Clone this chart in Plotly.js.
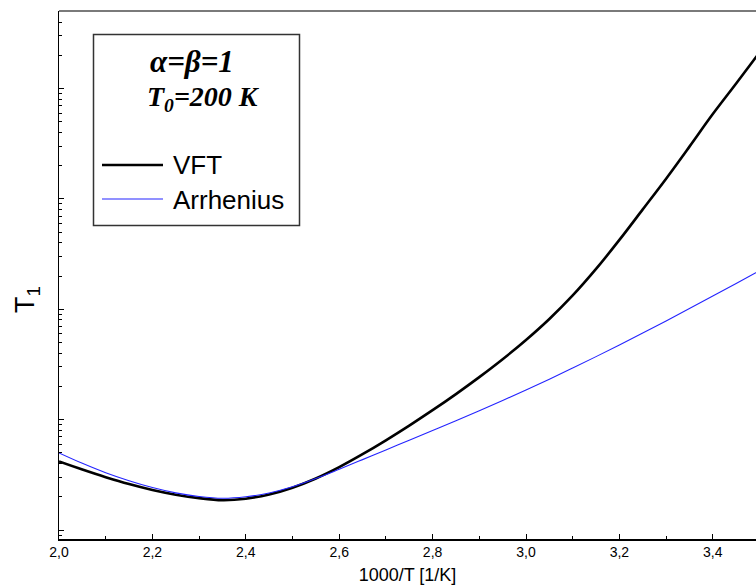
<!DOCTYPE html>
<html>
<head>
<meta charset="utf-8">
<script src="https://cdn.plot.ly/plotly-3.0.1.min.js"></script>
<style>
  html, body { margin: 0; padding: 0; background: #ffffff; }
  #chart { width: 756px; height: 586px; }
</style>
</head>
<body>
<div id="chart"></div>
<script>
// Inverse temperature, 1000/T in 1/K
const invT = [2.00, 2.05, 2.10, 2.15, 2.20, 2.25, 2.30, 2.35, 2.40, 2.45,
              2.50, 2.55, 2.60, 2.65, 2.70, 2.75, 2.80, 2.85, 2.90, 2.95,
              3.00, 3.05, 3.10, 3.15, 3.20, 3.25, 3.30, 3.35, 3.40, 3.45, 3.50];

// T1 with a Vogel-Fulcher-Tammann correlation time
const t1VFT = [4.181, 3.531, 3.012, 2.608, 2.306, 2.090, 1.943, 1.863, 1.921, 2.099,
               2.419, 2.932, 3.712, 4.860, 6.497, 8.831, 12.18, 17.05, 24.27, 35.27,
               52.67, 81.66, 133.4, 232.0, 425.2, 803.9, 1526, 2978, 5871, 11101, 21209];

// T1 with an Arrhenius correlation time
const t1Arrhenius = [4.994, 4.019, 3.302, 2.794, 2.424, 2.170, 2.013, 1.939, 2.000, 2.166,
                     2.465, 2.926, 3.553, 4.342, 5.317, 6.511, 7.973, 9.783, 12.06, 14.92,
                     18.58, 23.27, 29.35, 37.24, 47.54, 60.96, 78.49, 101.5, 131.7, 171.4, 223.5];

const seriesNames = ['VFT', 'Arrhenius'];

// plot frame in pixels
const W = 756, H = 586;
const L = 59, R = 0, T = 11, B = 47;
const pw = W - L - R, ph = H - T - B;
const px = v => (v - L) / pw;          // page x -> paper x
const py = v => (H - B - v) / ph;      // page y -> paper y

const sans = 'Arial, "Liberation Sans", sans-serif';
const serif = '"Times New Roman", "Liberation Serif", serif';

const traces = [
  {
    x: invT, y: t1VFT, name: seriesNames[0], type: 'scatter', mode: 'lines',
    line: { color: '#000000', width: 2.6, shape: 'spline', smoothing: 1 },
    hoverinfo: 'skip'
  },
  {
    x: invT, y: t1Arrhenius, name: seriesNames[1], type: 'scatter', mode: 'lines',
    line: { color: '#2424ff', width: 1.1, shape: 'spline', smoothing: 1 },
    hoverinfo: 'skip'
  }
];

const layout = {
  width: W, height: H,
  margin: { l: L, r: R, t: T, b: B, pad: 0 },
  paper_bgcolor: '#ffffff', plot_bgcolor: '#ffffff',
  showlegend: false,
  separators: ',.',
  font: { family: sans, color: '#000000' },
  xaxis: {
    range: [2, 2 + pw / 467],
    tick0: 2, dtick: 0.2, tickformat: '.1f',
    ticks: 'inside', ticklen: 5, tickwidth: 1, tickcolor: '#000000',
    minor: { ticks: 'inside', ticklen: 3, dtick: 0.1, tickcolor: '#000000', showgrid: false },
    showgrid: false, zeroline: false,
    showline: true, linecolor: '#000000', linewidth: 1.5,
    tickfont: { family: sans, size: 14, color: '#000000' },
    title: { text: '1000/T [1/K]', font: { family: sans, size: 18, color: '#000000' }, standoff: 9 }
  },
  yaxis: {
    type: 'log',
    range: [-0.0816, 4.703],
    dtick: 1,
    ticks: 'inside', ticklen: 5, tickwidth: 1, tickcolor: '#000000',
    minor: { ticks: 'inside', ticklen: 3, dtick: 'D1', tickcolor: '#000000', showgrid: false },
    showticklabels: false,
    showgrid: false, zeroline: false,
    showline: true, linecolor: '#000000', linewidth: 1.5
  },
  shapes: [
    // top frame edge
    { type: 'line', xref: 'paper', yref: 'paper', x0: 0, x1: 1, y0: 1, y1: 1,
      line: { color: '#7a7a7a', width: 2 } },
    // legend box
    { type: 'rect', xref: 'paper', yref: 'paper',
      x0: px(93.5), x1: px(299.5), y0: py(225.5), y1: py(34.5),
      line: { color: '#333333', width: 1.5 }, fillcolor: 'rgba(0,0,0,0)' },
    // legend samples
    { type: 'line', xref: 'paper', yref: 'paper', x0: px(102), x1: px(163), y0: py(165), y1: py(165),
      line: { color: '#000000', width: 2.6 } },
    { type: 'line', xref: 'paper', yref: 'paper', x0: px(102), x1: px(163), y0: py(199), y1: py(199),
      line: { color: '#2424ff', width: 1.1 } }
  ],
  annotations: [
    { xref: 'paper', yref: 'paper', x: px(192), y: py(62), xanchor: 'center', yanchor: 'middle',
      text: 'α=β=1', showarrow: false,
      font: { family: serif, size: 31, weight: 'bold', style: 'italic', color: '#000000' } },
    { xref: 'paper', yref: 'paper', x: px(203), y: py(99), xanchor: 'center', yanchor: 'middle',
      text: 'T<sub>0</sub>=200 K', showarrow: false,
      font: { family: serif, size: 28, weight: 'bold', style: 'italic', color: '#000000' } },
    { xref: 'paper', yref: 'paper', x: px(171), y: py(165), xanchor: 'left', yanchor: 'middle',
      text: seriesNames[0], showarrow: false,
      font: { family: sans, size: 26, color: '#000000' } },
    { xref: 'paper', yref: 'paper', x: px(171), y: py(200), xanchor: 'left', yanchor: 'middle',
      text: seriesNames[1], showarrow: false,
      font: { family: sans, size: 26, color: '#000000' } },
    // y axis title
    { xref: 'paper', yref: 'paper', x: px(27), y: py(300), xanchor: 'center', yanchor: 'middle',
      text: 'T<sub>1</sub>', textangle: -90, showarrow: false,
      font: { family: sans, size: 27, color: '#000000' } }
  ]
};

Plotly.newPlot('chart', traces, layout, { staticPlot: true, displayModeBar: false });
</script>
</body>
</html>
